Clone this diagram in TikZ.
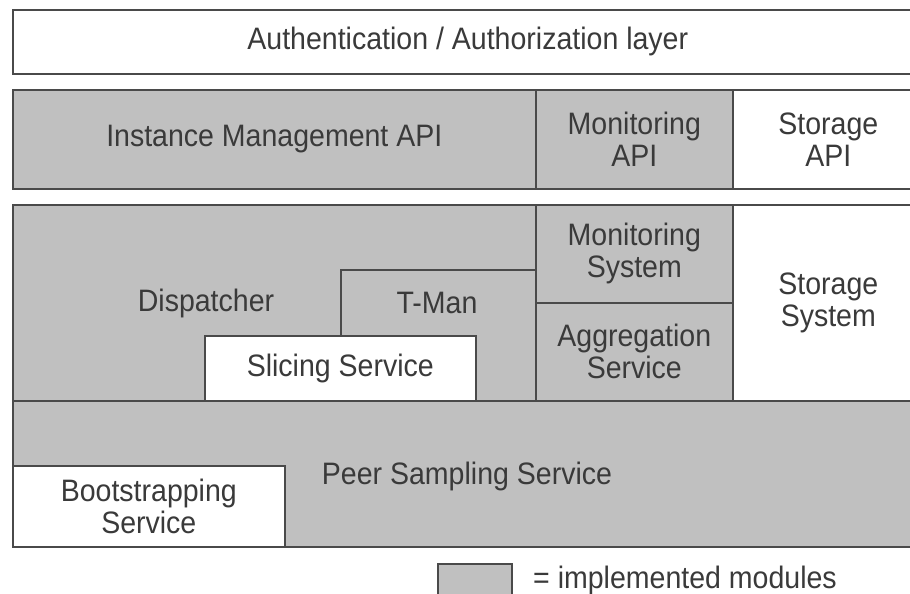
\documentclass[tikz,border=0pt]{standalone}
\usepackage{fontspec}
\setmainfont{Liberation Sans}[FakeStretch=0.92]
\definecolor{impl}{HTML}{C0C0C0}
\definecolor{edge}{HTML}{4A4A4A}
\definecolor{ink}{HTML}{3A3A3A}
\tikzset{
  blk/.style={draw=edge, line width=1.6pt, anchor=north west, inner sep=0pt,
    text=ink, align=center, font=\fontsize{31}{32}\selectfont},
  done/.style={blk, fill=impl},
  todo/.style={blk, fill=white},
  lbl/.style={text=ink, inner sep=0pt, font=\fontsize{31}{32}\selectfont}
}
\begin{document}
\begin{tikzpicture}[x=1pt,y=-1pt]
\useasboundingbox (0,0) rectangle (910,594);
\clip (0,0) rectangle (910,594);
% top layer
\node[todo, minimum width=910pt, minimum height=64pt] (auth) at (12,9) {Authentication / Authorization layer};
% API row
\node[done, minimum width=523pt, minimum height=99pt] (ima) at (12,89) {Instance Management API};
\node[done, minimum width=197pt, minimum height=99pt] (mapi) at (535,89) {Monitoring\\API};
\node[todo, minimum width=191pt, minimum height=99pt] (sapi) at (732,89) {Storage\\API};
% core row
\node[done, minimum width=523pt, minimum height=196pt] (disp) at (12,204) {};
\node[lbl] (displbl) at (206,303) {Dispatcher};
\node[done, minimum width=195pt, minimum height=131pt] (tman) at (340,269) {};
\node[lbl] (tmanlbl) at (437,303) {T-Man};
\node[todo, minimum width=271pt, minimum height=65pt] (slice) at (204,335) {Slicing Service};
\node[done, minimum width=197pt, minimum height=98pt] (msys) at (535,204) {Monitoring\\System};
\node[done, minimum width=197pt, minimum height=98pt] (agg) at (535,302) {Aggregation\\Service};
\node[todo, minimum width=191pt, minimum height=196pt] (ssys) at (732,204) {Storage\\System};
% peer sampling
\node[done, minimum width=910pt, minimum height=146pt] (pss) at (12,400) {};
\node[lbl] (psslbl) at (467,476) {Peer Sampling Service};
\node[todo, minimum width=272pt, minimum height=81pt] (boot) at (12,465) {Bootstrapping\\Service};
% legend
\node[done, minimum width=74pt, minimum height=45pt] (leg) at (437,563) {};
\node[lbl, anchor=west] (legtxt) at (533,580) {= implemented modules};
\end{tikzpicture}
\end{document}
